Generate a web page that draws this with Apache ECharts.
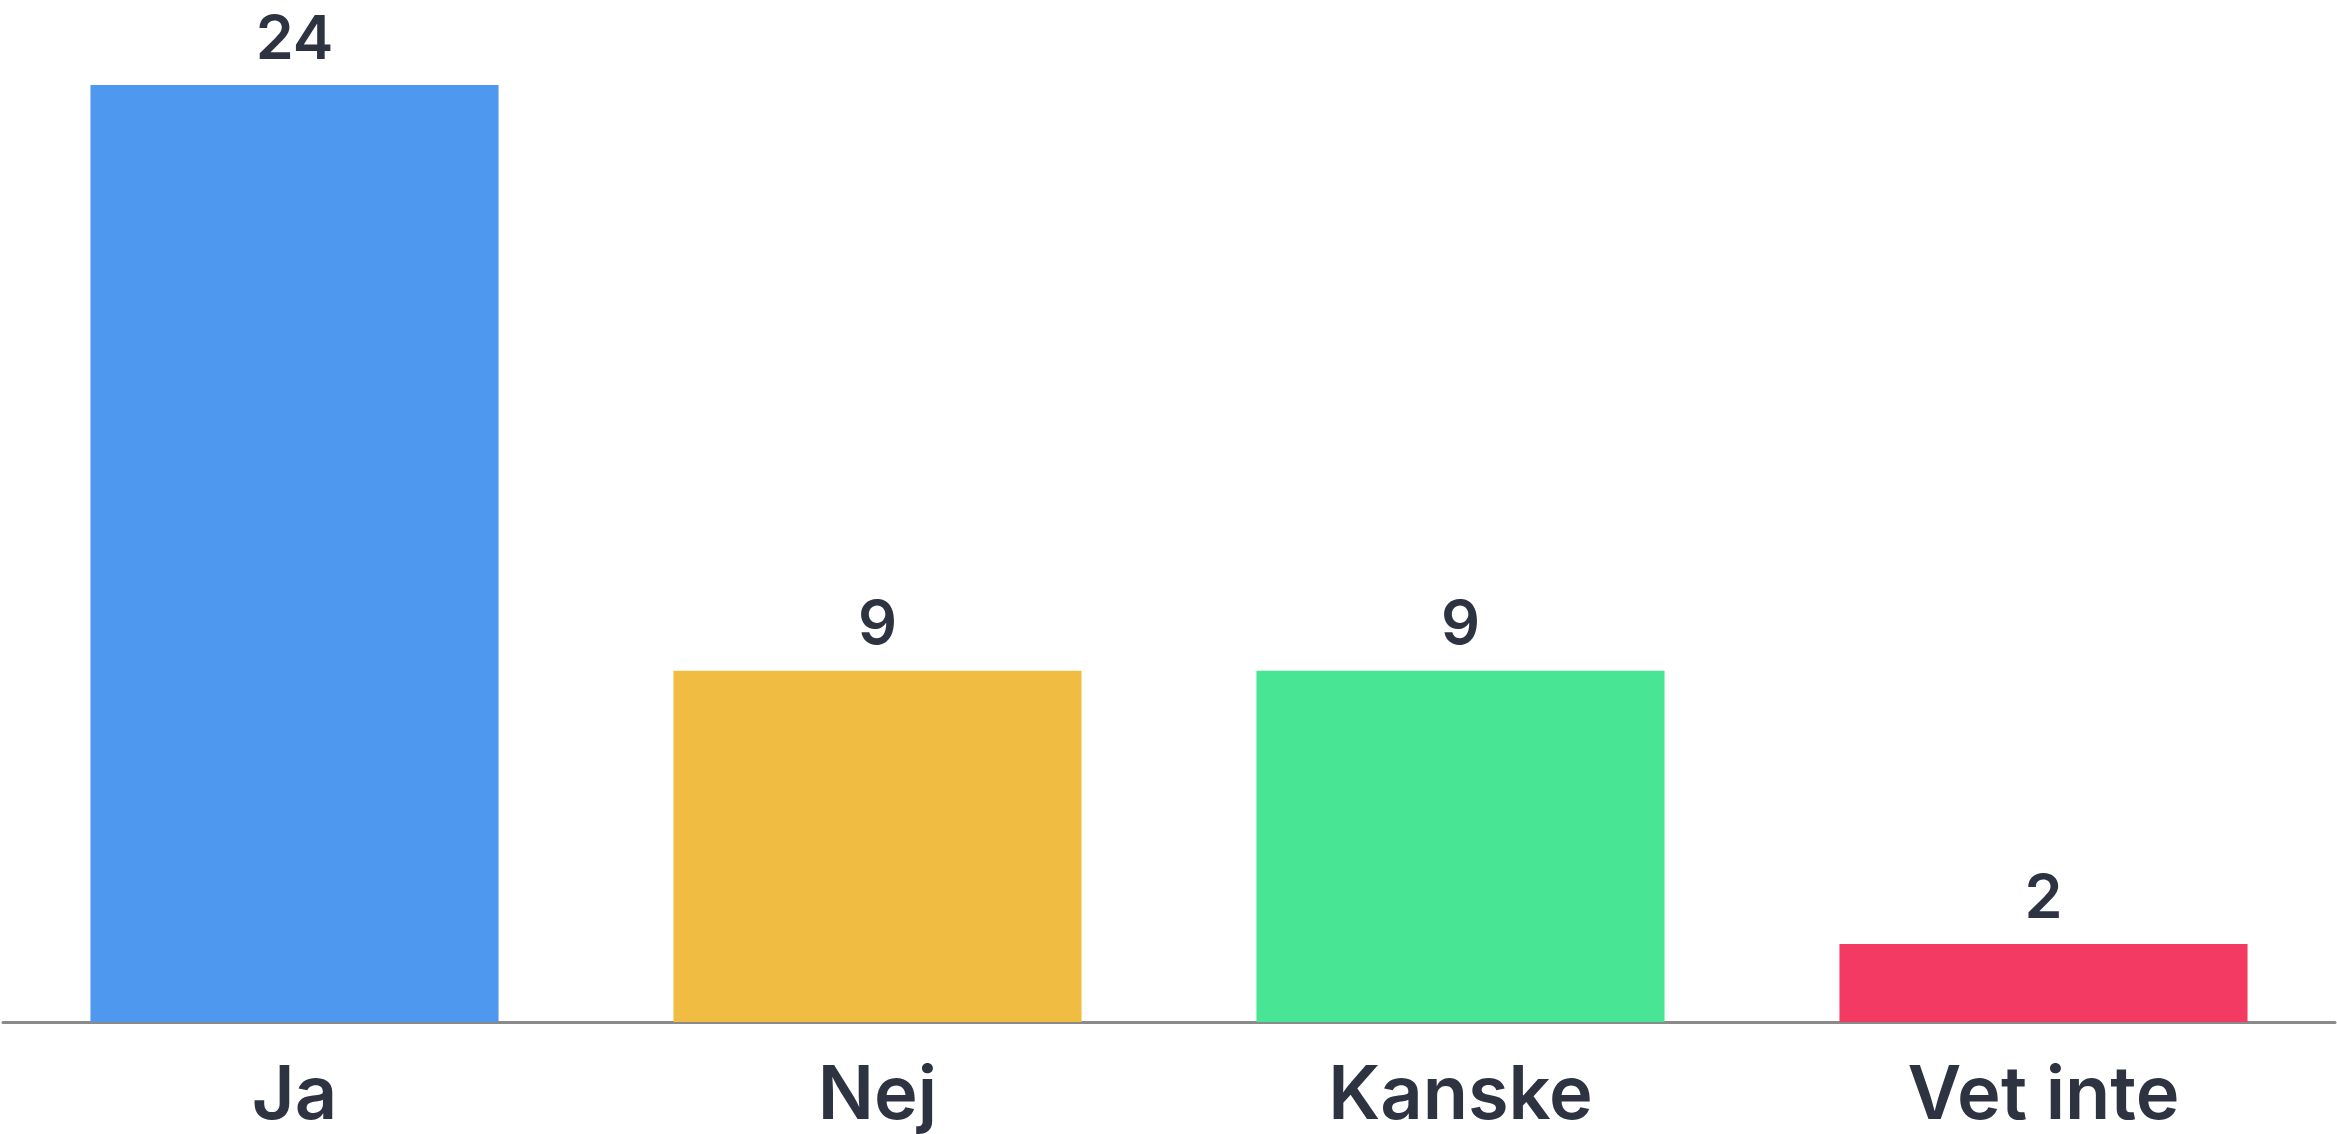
<!DOCTYPE html>
<html><head><meta charset="utf-8">
<script src="https://cdn.jsdelivr.net/npm/echarts@6/dist/echarts.min.js"></script>
<style>html,body{margin:0;padding:0;background:#fff}#c{width:2337px;height:1134px}</style>
</head><body><div id="c"></div>
<script>
const categories = ['Ja', 'Nej', 'Kanske', 'Vet inte'];
const values = [24, 9, 9, 2];
const colors = ['#4F98EF', '#F0BD42', '#48E594', '#F23A63'];

const chart = echarts.init(document.getElementById('c'));
chart.setOption({
  animation: false,
  grid: { left: 3, right: 2, top: 85, bottom: 111.5, containLabel: false },
  xAxis: {
    type: 'category',
    data: categories,
    axisTick: { show: false },
    axisLine: { lineStyle: { color: '#8a8a8a', width: 3 } },
    axisLabel: { fontFamily: 'Inter', fontWeight: 600, fontSize: 74, color: '#2d3340', margin: 38 }
  },
  yAxis: {
    type: 'value', min: 0, max: 24,
    show: false,
    splitLine: { show: false }
  },
  series: [{
    type: 'bar',
    barWidth: '70%',
    data: values.map((v, i) => ({ value: v, itemStyle: { color: colors[i] } })),
    label: { show: true, position: 'top', distance: 14, fontFamily: 'Inter', fontWeight: 600, fontSize: 61, color: '#2d3340' }
  }]
});
</script></body></html>
